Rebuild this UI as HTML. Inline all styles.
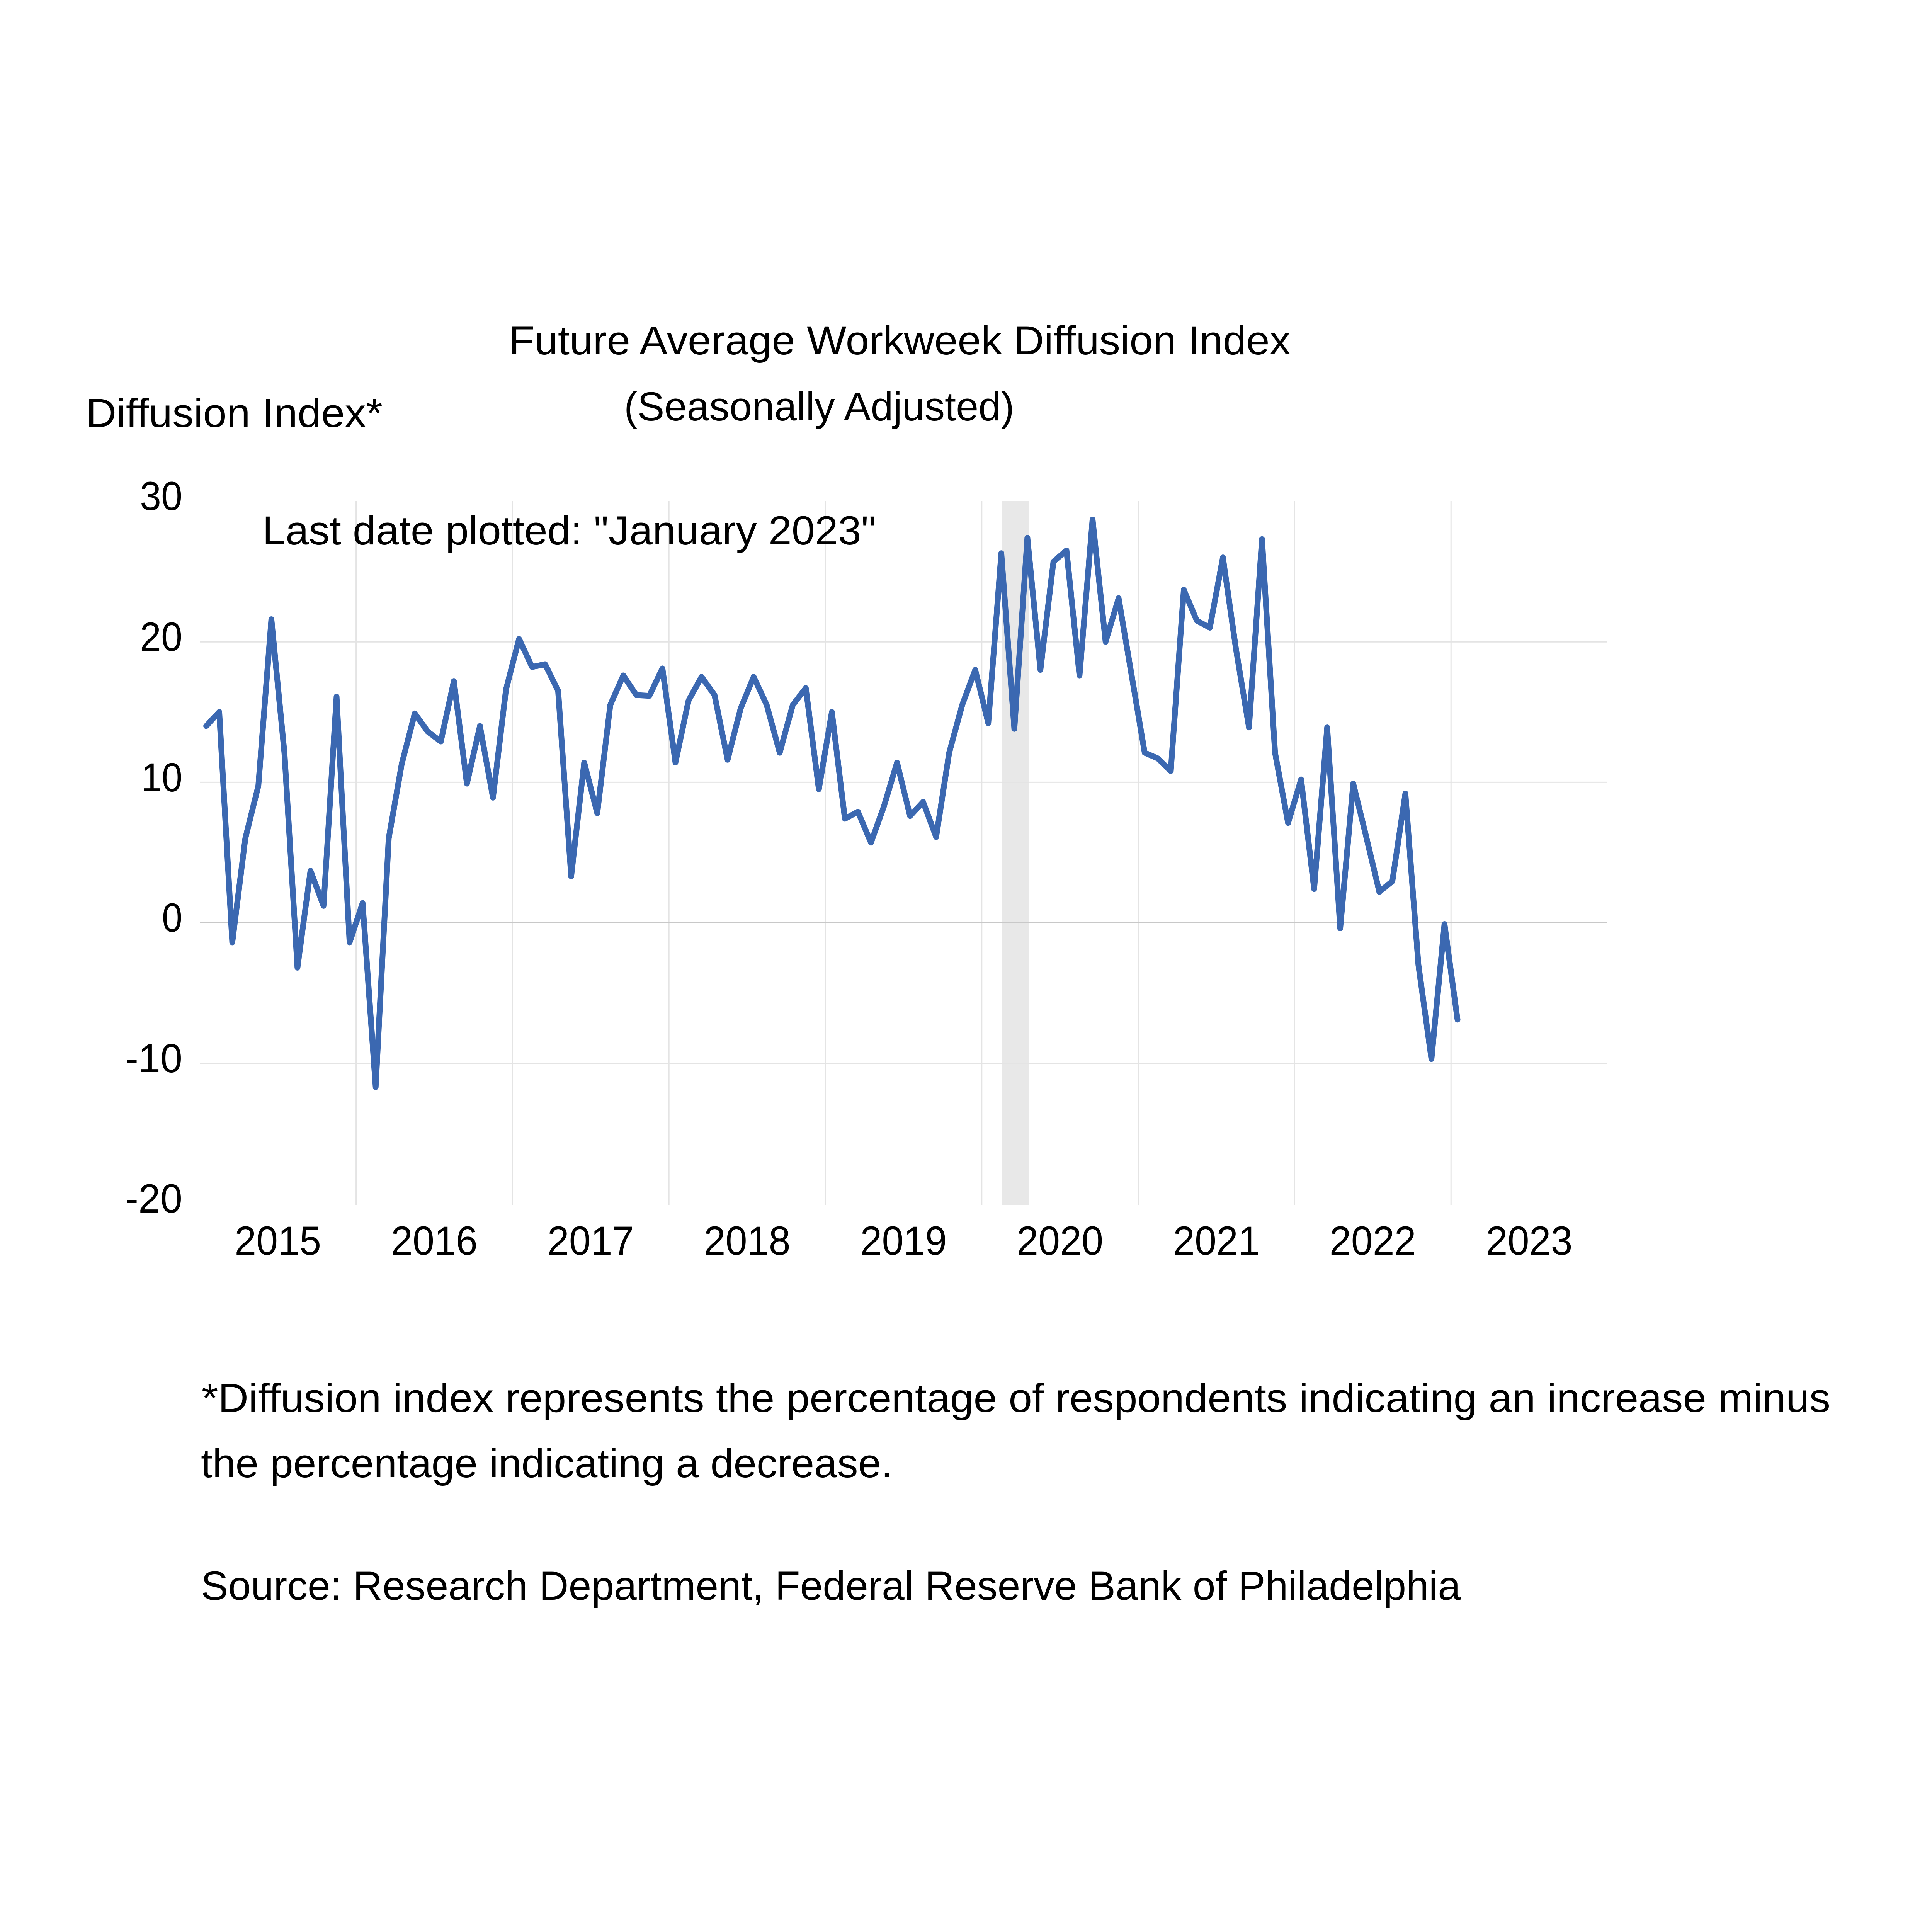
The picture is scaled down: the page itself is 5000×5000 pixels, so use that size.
<!DOCTYPE html>
<html>
<head>
<meta charset="utf-8">
<style>
  html, body { margin: 0; padding: 0; background: #ffffff; }
  svg { display: block; }
  text { font-family: "Liberation Sans", "DejaVu Sans", sans-serif; fill: #000000; }
</style>
</head>
<body>
<svg xmlns="http://www.w3.org/2000/svg" width="5000" height="5000" viewBox="0 0 5000 5000">
  <rect x="0" y="0" width="5000" height="5000" fill="#ffffff"/>

  <!-- Titles -->
  <text x="1317" y="917" font-size="105" textLength="2023" lengthAdjust="spacingAndGlyphs">Future Average Workweek Diffusion Index</text>
  <text x="1615" y="1088" font-size="105" textLength="1010" lengthAdjust="spacingAndGlyphs">(Seasonally Adjusted)</text>
  <text x="222" y="1105" font-size="105" textLength="768" lengthAdjust="spacingAndGlyphs">Diffusion Index*</text>

  <!-- Recession shading -->
  <rect x="2594" y="1297" width="69" height="1821" fill="#e8e8e8"/>

  <!-- Vertical gridlines -->
  <g stroke="#e4e4e4" stroke-width="3">
    <line x1="921.6" y1="1297" x2="921.6" y2="3118"/>
    <line x1="1326.4" y1="1297" x2="1326.4" y2="3118"/>
    <line x1="1731.2" y1="1297" x2="1731.2" y2="3118"/>
    <line x1="2136.0" y1="1297" x2="2136.0" y2="3118"/>
    <line x1="2540.8" y1="1297" x2="2540.8" y2="3118"/>
    <line x1="2945.6" y1="1297" x2="2945.6" y2="3118"/>
    <line x1="3350.4" y1="1297" x2="3350.4" y2="3118"/>
    <line x1="3755.2" y1="1297" x2="3755.2" y2="3118"/>
  </g>
  <!-- Horizontal gridlines -->
  <g stroke="#e4e4e4" stroke-width="3">
    <line x1="518" y1="1661.3" x2="4160" y2="1661.3"/>
    <line x1="518" y1="2024.4" x2="4160" y2="2024.4"/>
    <line x1="518" y1="2751.6" x2="4160" y2="2751.6"/>
  </g>
  <line x1="518" y1="2388" x2="4160" y2="2388" stroke="#c8c8c8" stroke-width="3"/>

  <!-- Last date plotted -->
  <text x="679" y="1409" font-size="105" textLength="1588" lengthAdjust="spacingAndGlyphs">Last date plotted: "January 2023"</text>

  <!-- Y axis labels -->
  <g font-size="105" text-anchor="end">
    <text x="472" y="1320" textLength="110" lengthAdjust="spacingAndGlyphs">30</text>
    <text x="472" y="1684" textLength="110" lengthAdjust="spacingAndGlyphs">20</text>
    <text x="472" y="2048" textLength="107" lengthAdjust="spacingAndGlyphs">10</text>
    <text x="472" y="2411" textLength="53" lengthAdjust="spacingAndGlyphs">0</text>
    <text x="472" y="2775" textLength="148" lengthAdjust="spacingAndGlyphs">-10</text>
    <text x="472" y="3138" textLength="148" lengthAdjust="spacingAndGlyphs">-20</text>
  </g>

  <!-- X axis labels -->
  <g font-size="105" text-anchor="middle">
    <text x="719.2" y="3247" textLength="224" lengthAdjust="spacingAndGlyphs">2015</text>
    <text x="1124.0" y="3247" textLength="224" lengthAdjust="spacingAndGlyphs">2016</text>
    <text x="1528.8" y="3247" textLength="224" lengthAdjust="spacingAndGlyphs">2017</text>
    <text x="1933.6" y="3247" textLength="224" lengthAdjust="spacingAndGlyphs">2018</text>
    <text x="2338.4" y="3247" textLength="224" lengthAdjust="spacingAndGlyphs">2019</text>
    <text x="2743.2" y="3247" textLength="224" lengthAdjust="spacingAndGlyphs">2020</text>
    <text x="3148.0" y="3247" textLength="224" lengthAdjust="spacingAndGlyphs">2021</text>
    <text x="3552.8" y="3247" textLength="224" lengthAdjust="spacingAndGlyphs">2022</text>
    <text x="3957.6" y="3247" textLength="224" lengthAdjust="spacingAndGlyphs">2023</text>
  </g>

  <!-- Data series -->
  <polyline fill="none" stroke="#3b68b1" stroke-width="15" stroke-linejoin="round" stroke-linecap="round"
    vector-effect="non-scaling-stroke"
    transform="translate(533.67 2388) scale(33.733 -36.36)"
    points="0,14.0 1,15.0 2,-1.4 3,6.0 4,9.75 5,21.6 6,12.1 7,-3.2 8,3.7 9,1.2 10,16.1 11,-1.4
            12,1.4 13,-11.7 14,6.0 15,11.3 16,14.9 17,13.6 18,12.9 19,17.2 20,9.9 21,14.0 22,8.9 23,16.6
            24,20.2 25,18.2 26,18.4 27,16.5 28,3.3 29,11.4 30,7.8 31,15.5 32,17.6 33,16.2 34,16.15 35,18.1
            36,11.4 37,15.8 38,17.5 39,16.2 40,11.6 41,15.25 42,17.5 43,15.5 44,12.1 45,15.5 46,16.7 47,9.5
            48,15.0 49,7.4 50,7.9 51,5.7 52,8.3 53,11.4 54,7.6 55,8.6 56,6.1 57,12.1 58,15.5 59,18.0
            60,14.2 61,26.3 62,13.8 63,27.4 64,18.0 65,25.7 66,26.5 67,17.6 68,28.7 69,20.0 70,23.1 71,17.6
            72,12.1 73,11.7 74,10.8 75,23.7 76,21.5 77,21.0 78,26.0 79,19.5 80,13.9 81,27.3 82,12.1 83,7.1
            84,10.2 85,2.4 86,13.9 87,-0.4 88,9.9 89,6.1 90,2.2 91,2.95 92,9.2 93,-3.0 94,-9.7 95,-0.1
            96,-6.9"/>

  <!-- Footnotes -->
  <text x="522" y="3654" font-size="105" textLength="4215" lengthAdjust="spacingAndGlyphs">*Diffusion index represents the percentage of respondents indicating an increase minus</text>
  <text x="520" y="3823" font-size="105" textLength="1790" lengthAdjust="spacingAndGlyphs">the percentage indicating a decrease.</text>
  <text x="520" y="4140" font-size="105" textLength="3260" lengthAdjust="spacingAndGlyphs">Source: Research Department, Federal Reserve Bank of Philadelphia</text>
</svg>
</body>
</html>
